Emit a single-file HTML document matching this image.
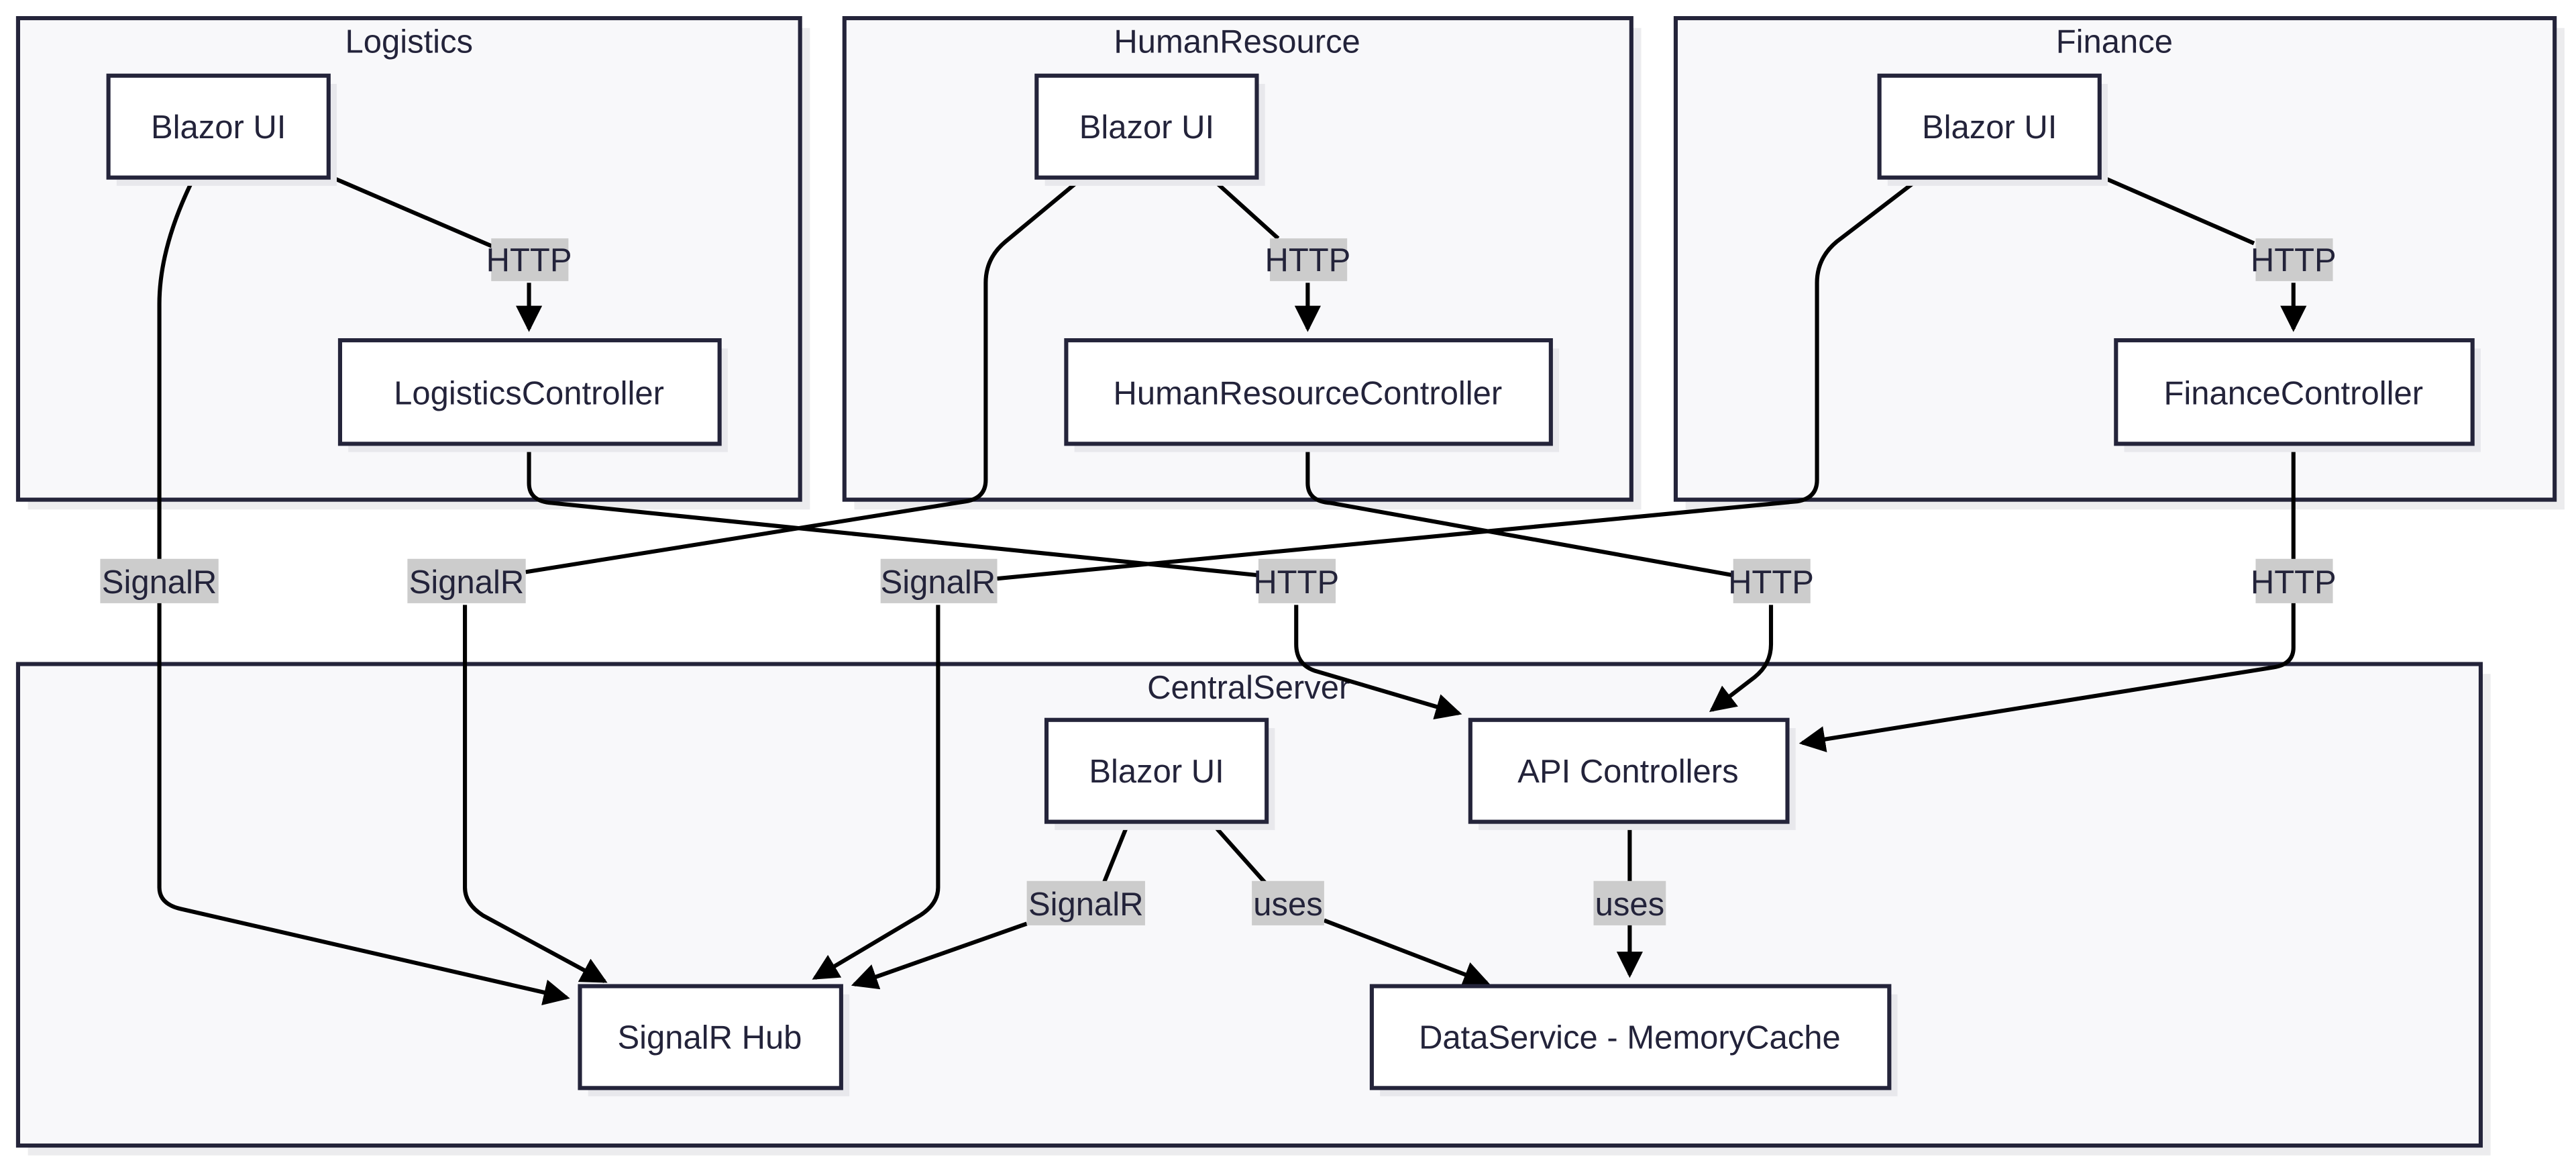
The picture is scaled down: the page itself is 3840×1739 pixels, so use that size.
<!DOCTYPE html>
<html><head><meta charset="utf-8"><style>
html,body{margin:0;padding:0;background:#fff;}
svg{display:block;}
text{font-family:"Liberation Sans",sans-serif;fill:#23233a;}
</style></head><body>
<svg width="3840" height="1739" viewBox="0 0 1568 710" xmlns="http://www.w3.org/2000/svg">
<defs>
<marker id="a" markerUnits="userSpaceOnUse" markerWidth="16" markerHeight="16" refX="14" refY="8" orient="auto"><path d="M0,0 L16,8 L0,16 z" fill="#000"/></marker>
</defs>
<rect x="0" y="0" width="1568" height="710" fill="#fff"/>
<g fill="#ececee">
<rect x="17" y="17" width="476" height="293"/>
<rect x="520" y="17" width="479" height="293"/>
<rect x="1026" y="17" width="535" height="293"/>
<rect x="17" y="410" width="1499" height="293"/>
</g>
<g fill="#f8f8fa" stroke="#24243a" stroke-width="2.5">
<rect x="11" y="11" width="476" height="293"/>
<rect x="514" y="11" width="479" height="293"/>
<rect x="1020" y="11" width="535" height="293"/>
<rect x="11" y="404" width="1499" height="293"/>
</g>
<g font-size="20" text-anchor="middle">
<text x="249" y="32">Logistics</text>
<text x="753" y="32">HumanResource</text>
<text x="1287" y="32">Finance</text>
<text x="760" y="425">CentralServer</text>
</g>
<g fill="none" stroke="#000" stroke-width="2.5">
<path d="M200,107 L300,150"/><path d="M322,172 L322,200" marker-end="url(#a)"/>
<path d="M737,108 L778,145"/><path d="M796,172 L796,200" marker-end="url(#a)"/>
<path d="M1278,107 L1372,148"/><path d="M1396,172 L1396,200" marker-end="url(#a)"/>
<path d="M118,108 Q97,150 97,185 L97,540 Q97,550 110,553 L345,607" marker-end="url(#a)"/>
<path d="M659,108 L612,147 Q600,157 600,172 L600,292 Q600,303 588,305 L320,348"/>
<path d="M283,368 L283,540 Q283,550 294,557 L368,597" marker-end="url(#a)"/>
<path d="M1169,108 L1118,147 Q1106,157 1106,172 L1106,292 Q1106,303 1094,305 L607,352"/>
<path d="M571,368 L571,540 Q571,550 560,557 L496,595" marker-end="url(#a)"/>
<path d="M322,270 L322,294 Q322,305 336,306 L766,350"/>
<path d="M789,368 L789,392 Q789,404 800,408 L888,434" marker-end="url(#a)"/>
<path d="M796,270 L796,294 Q796,305 810,306 L1055,350"/>
<path d="M1078,368 L1078,392 Q1078,404 1068,412 L1042,432" marker-end="url(#a)"/>
<path d="M1396,270 L1396,394 Q1396,404 1384,406 L1097,452" marker-end="url(#a)"/>
<path d="M687,500 L672,537"/><path d="M625,562 L520,599" marker-end="url(#a)"/>
<path d="M737,500 L770,537"/><path d="M806,560 L905,598" marker-end="url(#a)"/>
<path d="M992,500 L992,537"/><path d="M992,562 L992,593" marker-end="url(#a)"/>
</g>
<g fill="#cccccc">
<rect x="299" y="145" width="47" height="26"/>
<rect x="773" y="145" width="47" height="26"/>
<rect x="1373" y="145" width="47" height="26"/>
<rect x="61" y="340" width="72" height="27"/>
<rect x="248" y="340" width="72" height="27"/>
<rect x="536" y="340" width="71" height="27"/>
<rect x="766" y="340" width="47" height="27"/>
<rect x="1055" y="340" width="47" height="27"/>
<rect x="1373" y="340" width="47" height="27"/>
<rect x="625" y="536" width="72" height="27"/>
<rect x="762" y="536" width="44" height="27"/>
<rect x="970" y="536" width="44" height="27"/>
</g>
<g font-size="20" text-anchor="middle">
<text x="322" y="165">HTTP</text>
<text x="796" y="165">HTTP</text>
<text x="1396" y="165">HTTP</text>
<text x="97" y="361">SignalR</text>
<text x="284" y="361">SignalR</text>
<text x="571" y="361">SignalR</text>
<text x="789" y="361">HTTP</text>
<text x="1078" y="361">HTTP</text>
<text x="1396" y="361">HTTP</text>
<text x="661" y="557">SignalR</text>
<text x="784" y="557">uses</text>
<text x="992" y="557">uses</text>
</g>
<g fill="#e8e8ec">
<rect x="71" y="51" width="134" height="62"/>
<rect x="212" y="212" width="231" height="63"/>
<rect x="636" y="51" width="134" height="62"/>
<rect x="654" y="212" width="295" height="63"/>
<rect x="1149" y="51" width="134" height="62"/>
<rect x="1293" y="212" width="217" height="63"/>
<rect x="642" y="443" width="134" height="62"/>
<rect x="900" y="443" width="193" height="62"/>
<rect x="358" y="605" width="159" height="62"/>
<rect x="840" y="605" width="315" height="62"/>
</g>
<g fill="#fff" stroke="#24243a" stroke-width="2.5">
<rect x="66" y="46" width="134" height="62"/>
<rect x="207" y="207" width="231" height="63"/>
<rect x="631" y="46" width="134" height="62"/>
<rect x="649" y="207" width="295" height="63"/>
<rect x="1144" y="46" width="134" height="62"/>
<rect x="1288" y="207" width="217" height="63"/>
<rect x="637" y="438" width="134" height="62"/>
<rect x="895" y="438" width="193" height="62"/>
<rect x="353" y="600" width="159" height="62"/>
<rect x="835" y="600" width="315" height="62"/>
</g>
<g font-size="20" text-anchor="middle">
<text x="133" y="84">Blazor UI</text>
<text x="322" y="246">LogisticsController</text>
<text x="698" y="84">Blazor UI</text>
<text x="796" y="246">HumanResourceController</text>
<text x="1211" y="84">Blazor UI</text>
<text x="1396" y="246">FinanceController</text>
<text x="704" y="476">Blazor UI</text>
<text x="991" y="476">API Controllers</text>
<text x="432" y="638">SignalR Hub</text>
<text x="992" y="638">DataService - MemoryCache</text>
</g>
</svg>
</body></html>
